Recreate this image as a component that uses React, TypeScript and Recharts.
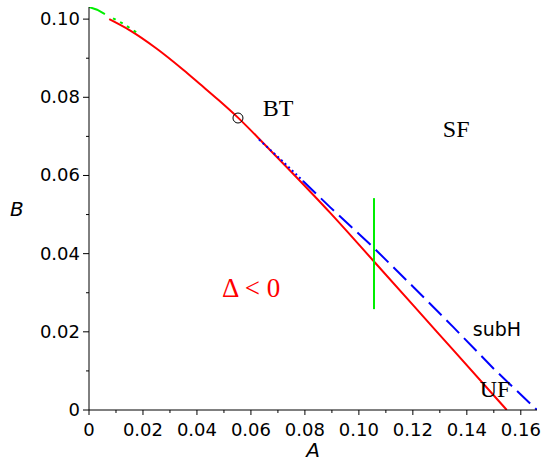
import React from "react";
import { ComposedChart, Line, XAxis, YAxis, ReferenceDot } from "recharts";

// ---- data ----
const redA = [0.0075, 0.015, 0.025, 0.035, 0.0411, 0.048, 0.0552, 0.065, 0.075, 0.0893, 0.1056, 0.12, 0.135, 0.1548];
const redB = [0.1, 0.0972, 0.0925, 0.087, 0.0834, 0.0793, 0.0748, 0.068, 0.0609, 0.0505, 0.038, 0.0269, 0.0153, 0.0];

const blueDotA = [0.063, 0.0715, 0.0793];
const blueDotB = [0.0692, 0.0638, 0.0586];
const blueA = [0.0793, 0.0893, 0.1052, 0.12, 0.135, 0.1502, 0.166];
const blueB = [0.0586, 0.0519, 0.0417, 0.0316, 0.0212, 0.0104, 0.0];

const greenTopA = [0.0, 0.003, 0.0059];
const greenTopB = [0.1031, 0.1024, 0.1013];
const greenDotA = [0.0089, 0.013, 0.0178];
const greenDotB = [0.1002, 0.0987, 0.0965];
const greenVA = [0.1056, 0.1056];
const greenVB = [0.0542, 0.0258];

const btPoint = { A: 0.0552, B: 0.0747 };

const xTicks = [0, 0.01, 0.02, 0.03, 0.04, 0.05, 0.06, 0.07, 0.08, 0.09, 0.1, 0.11, 0.12, 0.13, 0.14, 0.15, 0.16];
const xTickLabels = ["0", "", "0.02", "", "0.04", "", "0.06", "", "0.08", "", "0.10", "", "0.12", "", "0.14", "", "0.16"];
const yTicks = [0, 0.01, 0.02, 0.03, 0.04, 0.05, 0.06, 0.07, 0.08, 0.09, 0.1];
const yTickLabels = ["0", "", "0.02", "", "0.04", "", "0.06", "", "0.08", "", "0.10"];

const regionLabels = [
  { A: 0.0644, B: 0.0752, text: "BT", color: "#000", font: "'Liberation Serif', serif", size: 24 },
  { A: 0.1311, B: 0.0698, text: "SF", color: "#000", font: "'Liberation Serif', serif", size: 24 },
  { A: 0.1448, B: 0.0033, text: "UF", color: "#000", font: "'Liberation Serif', serif", size: 24 },
  { A: 0.1422, B: 0.0189, text: "subH", color: "#000", font: "'DejaVu Sans', sans-serif", size: 19 },
  { A: 0.0493, B: 0.0289, text: "\u0394 < 0", color: "#ff0000", font: "'Liberation Serif', serif", size: 27 },
];

const zip = (a: number[], b: number[]) => a.map((v, i) => ({ A: v, B: b[i] }));

const tickFont = "'DejaVu Sans', sans-serif";

const XTick = (props: any) => {
  const { x, y, index } = props;
  const lbl = xTickLabels[index] ?? "";
  const major = lbl !== "";
  return (
    <g>
      <line x1={x} x2={x} y1={y} y2={y + (major ? 5 : 3)} stroke="#000" strokeWidth={1} />
      {major && (
        <text x={x} y={y + 26} textAnchor="middle" fontFamily={tickFont} fontSize={18} fill="#000">
          {lbl}
        </text>
      )}
    </g>
  );
};

const YTick = (props: any) => {
  const { x, y, index } = props;
  const lbl = yTickLabels[index] ?? "";
  const major = lbl !== "";
  return (
    <g>
      <line x1={x} x2={x - (major ? 6 : 3)} y1={y} y2={y} stroke="#000" strokeWidth={1} />
      {major && (
        <text x={x - 9} y={y + 6} textAnchor="end" fontFamily={tickFont} fontSize={18} fill="#000">
          {lbl}
        </text>
      )}
    </g>
  );
};

export default function App() {
  return (
    <div style={{ position: "absolute", left: 0, top: 0, background: "#fff" }}>
      <ComposedChart width={546} height={463} margin={{ top: 7, right: 9, left: 0, bottom: 0 }}>
        <XAxis
          type="number"
          dataKey="A"
          domain={[0, 0.166]}
          allowDataOverflow
          ticks={xTicks}
          interval={0}
          tickSize={0}
          tickMargin={0}
          tickLine={false}
          tick={<XTick />}
          axisLine={{ stroke: "#000", strokeWidth: 1 }}
          height={53}
          label={{ value: "A", position: "insideBottom", offset: 6, style: { fontFamily: tickFont, fontStyle: "italic", fontSize: 20, fill: "#000" } }}
        />
        <YAxis
          type="number"
          dataKey="B"
          domain={[0, 0.1031]}
          allowDataOverflow
          ticks={yTicks}
          interval={0}
          tickSize={0}
          tickMargin={0}
          tickLine={false}
          tick={<YTick />}
          axisLine={{ stroke: "#000", strokeWidth: 1 }}
          width={89}
          label={{ value: "B", position: "insideLeft", offset: 10, angle: 0, style: { fontFamily: tickFont, fontStyle: "italic", fontSize: 20, fill: "#000" } }}
        />
        <Line data={zip(greenTopA, greenTopB)} dataKey="B" stroke="#00ee00" strokeWidth={2} dot={false} isAnimationActive={false} />
        <Line data={zip(redA, redB)} dataKey="B" type="monotone" stroke="#ff0000" strokeWidth={2} dot={false} isAnimationActive={false} />
        <Line data={zip(greenDotA, greenDotB)} dataKey="B" stroke="#00ee00" strokeWidth={2} strokeDasharray="3 5" dot={false} isAnimationActive={false} />
        <Line data={zip(blueDotA, blueDotB)} dataKey="B" stroke="#0000ff" strokeWidth={2} strokeDasharray="2 3" dot={false} isAnimationActive={false} />
        <Line data={zip(blueA, blueB)} dataKey="B" stroke="#0000ff" strokeWidth={2} strokeDasharray="18 7" dot={false} isAnimationActive={false} />
        <Line data={zip(greenVA, greenVB)} dataKey="B" stroke="#00ee00" strokeWidth={2} dot={false} isAnimationActive={false} />
        <ReferenceDot x={btPoint.A} y={btPoint.B} r={5} fill="none" stroke="#000" strokeWidth={1} ifOverflow="visible" />
        {regionLabels.map((l) => (
          <ReferenceDot
            key={l.text}
            x={l.A}
            y={l.B}
            r={0}
            ifOverflow="visible"
            shape={(p: any) => (
              <text x={p.cx} y={p.cy} fontFamily={l.font} fontSize={l.size} fill={l.color}>
                {l.text}
              </text>
            )}
          />
        ))}
      </ComposedChart>
    </div>
  );
}
